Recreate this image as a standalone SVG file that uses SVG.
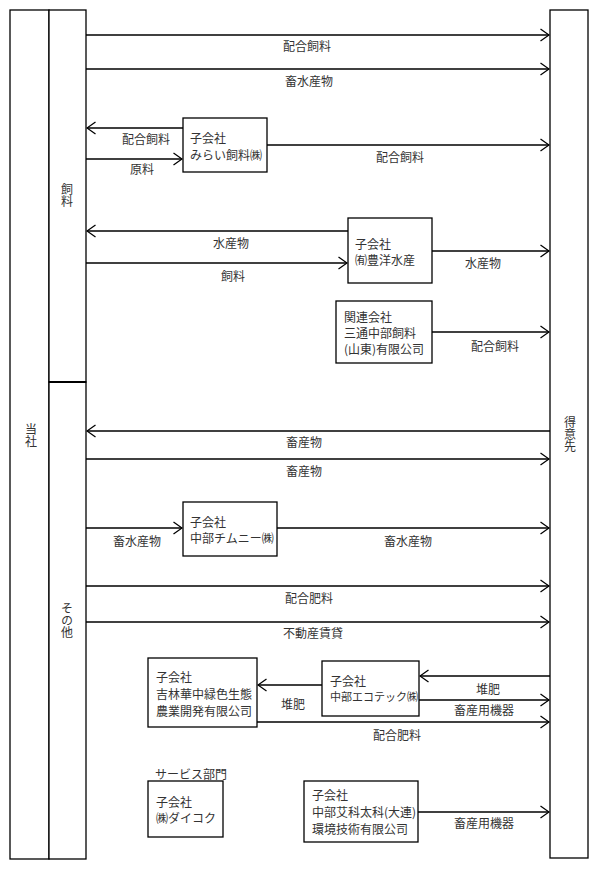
<svg xmlns="http://www.w3.org/2000/svg" width="600" height="875" viewBox="0 0 600 875">
<style>
text{font-family:"Noto Sans CJK JP","Noto Sans",sans-serif;font-size:12px;fill:#333;dominant-baseline:central}
.c{text-anchor:middle}
.v{writing-mode:vertical-rl;text-anchor:start;dominant-baseline:central}
.box{fill:#fff;stroke:#000;stroke-width:1.3}
.ar{fill:none;stroke:#000;stroke-width:1.3;marker-end:url(#ah)}
</style>
<defs>
<marker id="ah" viewBox="0 0 10 14" markerUnits="userSpaceOnUse" markerWidth="10" markerHeight="14" refX="9" refY="7" orient="auto">
<path d="M0.5,1 L9,7 L0.5,13" fill="none" stroke="#000" stroke-width="1.3"/>
</marker>
</defs>
<rect width="600" height="875" fill="#fff"/>

<g id="toshya">
<rect class="box" x="10" y="10" width="39" height="849"/>
<text class="v" x="31" y="423">当社</text>
</g>
<g id="shiryo">
<rect class="box" x="49" y="10" width="37" height="372"/>
<text class="v" x="67" y="183">飼料</text>
</g>
<g id="sonota">
<rect class="box" x="49" y="382" width="37" height="477"/>
<line x1="49" y1="382" x2="86" y2="382" stroke="#000" stroke-width="2"/>
<text class="v" x="67" y="602">その他</text>
</g>
<g id="tokuisaki">
<rect class="box" x="550" y="10" width="38" height="848"/>
<text class="v" x="570" y="416">得意先</text>
</g>

<g id="mirai">
<rect class="box" x="183" y="118" width="84" height="54"/>
<text x="190" y="137">子会社</text>
<text x="190" y="154">みらい飼料㈱</text>
</g>
<g id="hoyo">
<rect class="box" x="348" y="218" width="84" height="65"/>
<text x="355" y="243">子会社</text>
<text x="355" y="259">㈲豊洋水産</text>
</g>
<g id="santsu">
<rect class="box" x="336" y="301" width="96" height="62"/>
<text x="344" y="316">関連会社</text>
<text x="344" y="332">三通中部飼料</text>
<text x="344" y="348">(山東)有限公司</text>
</g>
<g id="chimney">
<rect class="box" x="183" y="502" width="94" height="54"/>
<text x="190" y="521">子会社</text>
<text x="190" y="537">中部チムニー㈱</text>
</g>
<g id="kitsurin">
<rect class="box" x="148" y="658" width="109" height="69"/>
<text x="156" y="676">子会社</text>
<text x="156" y="693">吉林華中緑色生態</text>
<text x="156" y="710">農業開発有限公司</text>
</g>
<g id="ecotec">
<rect class="box" x="322" y="661" width="97" height="55"/>
<text x="330" y="680">子会社</text>
<text x="330" y="696" style="font-size:11px">中部エコテック㈱</text>
</g>
<g id="daikoku">
<text x="155" y="773">サービス部門</text>
<rect class="box" x="148" y="781" width="75" height="56"/>
<text x="156" y="801">子会社</text>
<text x="156" y="817">㈱ダイコク</text>
</g>
<g id="aika">
<rect class="box" x="304" y="781" width="114" height="61"/>
<text x="312" y="794">子会社</text>
<text x="312" y="811">中部艾科太科(大連)</text>
<text x="312" y="828">環境技術有限公司</text>
</g>

<g id="connectors">
<line class="ar" x1="86" y1="35" x2="549" y2="35"/>
<text class="c" x="307" y="45">配合飼料</text>
<line class="ar" x1="86" y1="69" x2="549" y2="69"/>
<text class="c" x="309" y="80">畜水産物</text>
<line class="ar" x1="183" y1="128" x2="87" y2="128"/>
<text class="c" x="146" y="138">配合飼料</text>
<line class="ar" x1="86" y1="159" x2="182" y2="159"/>
<text class="c" x="142" y="168">原料</text>
<line class="ar" x1="267" y1="145" x2="549" y2="145"/>
<text class="c" x="400" y="156">配合飼料</text>

<line class="ar" x1="348" y1="231" x2="87" y2="231"/>
<text class="c" x="231" y="242">水産物</text>
<line class="ar" x1="86" y1="263" x2="347" y2="263"/>
<text class="c" x="233" y="275">飼料</text>
<line class="ar" x1="432" y1="251" x2="549" y2="251"/>
<text class="c" x="483" y="262">水産物</text>
<line class="ar" x1="432" y1="332" x2="549" y2="332"/>
<text class="c" x="495" y="345">配合飼料</text>

<line class="ar" x1="550" y1="431" x2="87" y2="431"/>
<text class="c" x="304" y="441">畜産物</text>
<line class="ar" x1="86" y1="459" x2="549" y2="459"/>
<text class="c" x="304" y="470">畜産物</text>
<line class="ar" x1="86" y1="528" x2="182" y2="528"/>
<text class="c" x="137" y="540">畜水産物</text>
<line class="ar" x1="277" y1="528" x2="549" y2="528"/>
<text class="c" x="408" y="540">畜水産物</text>
<line class="ar" x1="86" y1="586" x2="549" y2="586"/>
<text class="c" x="309" y="597">配合肥料</text>
<line class="ar" x1="86" y1="622" x2="549" y2="622"/>
<text class="c" x="313" y="632">不動産賃貸</text>

<line class="ar" x1="550" y1="676" x2="420" y2="676"/>
<text class="c" x="488" y="688">堆肥</text>
<line class="ar" x1="419" y1="700" x2="549" y2="700"/>
<text class="c" x="484" y="709">畜産用機器</text>
<line class="ar" x1="322" y1="685" x2="258" y2="685"/>
<text class="c" x="293" y="703">堆肥</text>
<line class="ar" x1="257" y1="722" x2="549" y2="722"/>
<text class="c" x="397" y="734">配合肥料</text>
<line class="ar" x1="418" y1="812" x2="549" y2="812"/>
<text class="c" x="484" y="822">畜産用機器</text>
</g>
</svg>
